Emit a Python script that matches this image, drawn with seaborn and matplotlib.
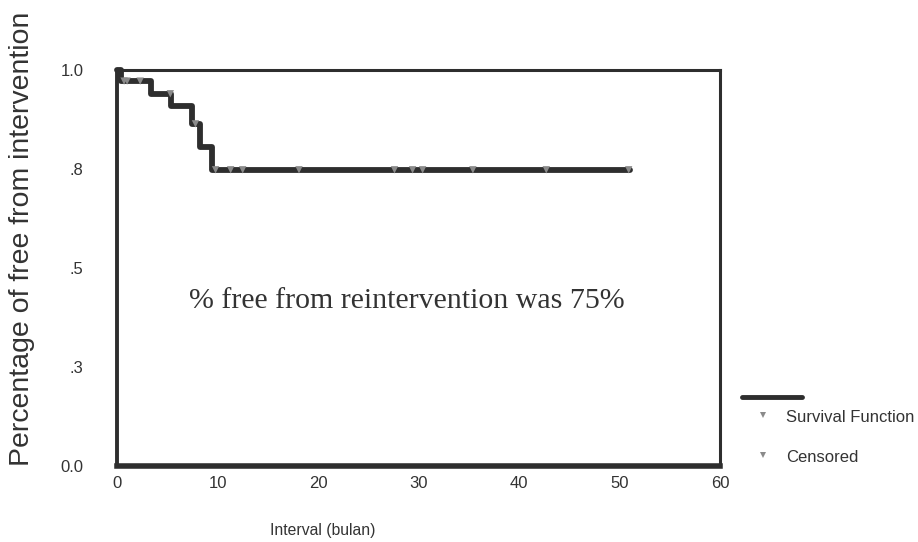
import matplotlib
matplotlib.use("Agg")
import matplotlib.pyplot as plt
from matplotlib.lines import Line2D
import seaborn as sns
import numpy as np
import pandas as pd

# Kaplan-Meier step data
event_times = [0.0, 0.4, 3.4, 5.4, 7.5, 8.3, 9.4, 51.0]
survival = [1.0, 0.972, 0.940, 0.910, 0.864, 0.806, 0.748, 0.748]
censored_times = [0.7, 1.0, 2.3, 5.3, 7.8, 9.8, 11.3, 12.5, 18.1, 27.6, 29.4, 30.4, 35.4, 42.7, 50.9]
x_ticks = [0, 10, 20, 30, 40, 50, 60]
y_ticks = [0.0, 0.25, 0.5, 0.75, 1.0]
y_tick_labels = ["0.0", ".3", ".5", ".8", "1.0"]

sns.set_style("white")
plt.rcParams['font.family'] = ['Liberation Sans', 'DejaVu Sans']

dark = "#2e2e2e"
gray = "#8a8a8a"
text_col = "#333333"

fig = plt.figure(figsize=(9.18, 5.42), dpi=100)
ax = fig.add_axes([0.1275, 0.1402, 0.657, 0.7306])

df = pd.DataFrame({"t": event_times, "s": survival})
sns.lineplot(data=df, x="t", y="s", ax=ax, drawstyle="steps-post", estimator=None,
             color=dark, linewidth=4.2, clip_on=False, zorder=3)

cens_s = [survival[np.searchsorted(event_times, t, side="right") - 1] for t in censored_times]
dfc = pd.DataFrame({"t": censored_times, "s": cens_s})
sns.scatterplot(data=dfc, x="t", y="s", ax=ax, marker="v", color=gray, s=28,
                edgecolor="none", zorder=4, clip_on=False)

ax.set_xlim(0, 60)
ax.set_ylim(0, 1)
ax.set_xticks(x_ticks)
ax.set_xticklabels([str(v) for v in x_ticks])
ax.set_yticks(y_ticks)
ax.set_yticklabels(y_tick_labels)
ax.set_xlabel("")
ax.set_ylabel("")

for name, sp in ax.spines.items():
    sp.set_visible(True)
    sp.set_color(dark)
    sp.set_linewidth(2.2)
ax.spines['bottom'].set_linewidth(4)
ax.spines['left'].set_linewidth(2.8)

ax.tick_params(axis='y', direction='out', length=4, width=4, color=dark,
               labelsize=12, labelcolor=text_col, pad=20)
ax.tick_params(axis='x', direction='out', length=2, width=6, color=dark,
               labelsize=12, labelcolor=text_col, pad=5)

fig.text(0.024, 0.56, "Percentage of free from intervention", rotation=90,
         ha="center", va="center", fontsize=20.5, color=text_col)
fig.text(0.351, 0.022, "Interval (bulan)", ha="center", va="center",
         fontsize=11.3, color=text_col)

fig.text(0.443, 0.445, "% free from reintervention was 75%", ha="center", va="center",
         fontsize=21.5, color=text_col, family=["Liberation Serif", "DejaVu Serif"])

# legend (drawn in figure coordinates)
fig.add_artist(Line2D([0.808, 0.874], [1 - 397 / 542, 1 - 397 / 542], color=dark,
                      linewidth=3.5, transform=fig.transFigure))
for ypix, lab in [(418, "Survival Function"), (458, "Censored")]:
    yf = 1 - ypix / 542
    fig.add_artist(Line2D([0.831], [yf + 0.006], marker="v", markersize=5, color=gray,
                          linestyle="none", markeredgewidth=0, transform=fig.transFigure))
    fig.text(0.856, yf, lab, ha="left", va="center", fontsize=12, color=text_col)

fig.savefig("out.png", dpi=100)
